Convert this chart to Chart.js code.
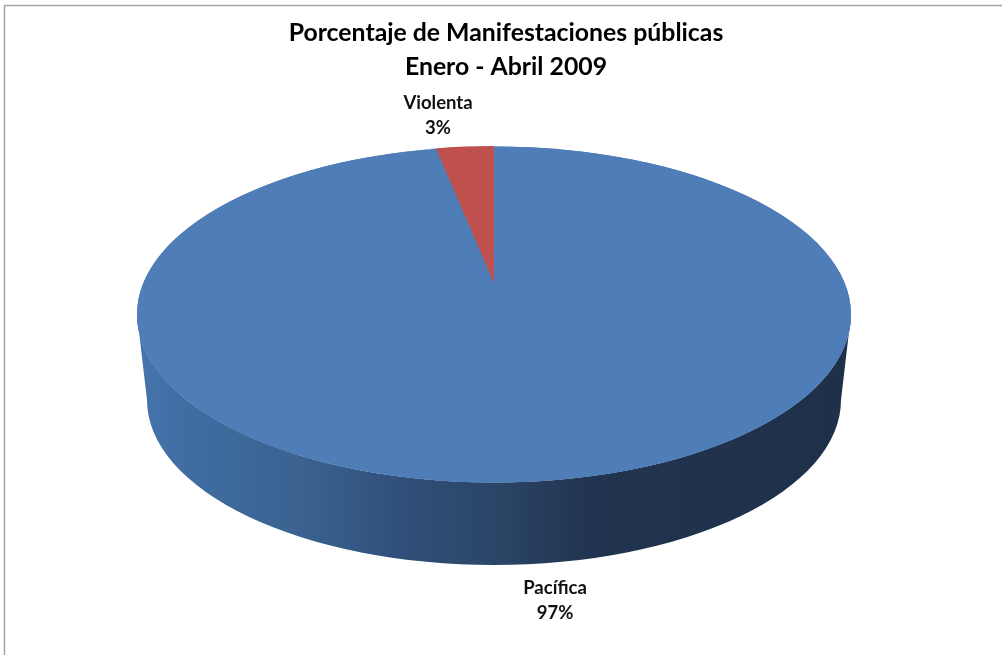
<!DOCTYPE html>
<html>
<head>
<meta charset="utf-8">
<title>Porcentaje de Manifestaciones públicas</title>
<script src="https://cdn.jsdelivr.net/npm/chart.js@4"></script>
<style>
  html, body { margin: 0; background: #fff; }
  canvas { display: block; }
</style>
</head>
<body>
<canvas id="pieChart" width="1002" height="657"></canvas>
<script>
const categories = ['Pacífica', 'Violenta'];
const percentages = [97, 3];
const titleLines = ['Porcentaje de Manifestaciones públicas', 'Enero - Abril 2009'];

const FONT = 'Lato, "Open Sans", sans-serif';

// Top face ellipse of the 3D pie; the red slice has its own apex, as in the reference
const topFaces = [
    { x: 494, y: 314.5, rx: 357, ry: 168 },
    { x: 494, y: 283, rx: 310, ry: 137 }
];
const bottomFace = { x: 494, y: 400, rx: 347, ry: 165 };
const labelPositions = [
    { x: 555, y: 588 },
    { x: 438, y: 103 }
];

// Only the top and left edges of the chart frame are in the picture
const framePlugin = {
    id: 'frame',
    beforeDraw(chart) {
        const ctx = chart.ctx;
        ctx.save();
        ctx.strokeStyle = '#a4a4a4';
        ctx.lineWidth = 1.5;
        ctx.beginPath();
        ctx.moveTo(4.5, 655);
        ctx.lineTo(4.5, 5.5);
        ctx.lineTo(1002, 5.5);
        ctx.stroke();
        ctx.restore();
    }
};

// Side wall first, then the slices squashed into their ellipses
const pie3dPlugin = {
    id: 'pie3d',
    beforeDatasetDraw(chart, args) {
        const ctx = chart.ctx;
        const top = topFaces[0];
        const wall = ctx.createLinearGradient(top.x - top.rx, 0, top.x + top.rx, 0);
        wall.addColorStop(0, '#4674ac');
        wall.addColorStop(0.074, '#3f6da2');
        wall.addColorStop(0.228, '#3b6290');
        wall.addColorStop(0.368, '#30507a');
        wall.addColorStop(0.508, '#2a4566');
        wall.addColorStop(0.634, '#21344f');
        wall.addColorStop(1, '#1f3049');

        ctx.save();
        ctx.fillStyle = wall;
        ctx.beginPath();
        ctx.ellipse(top.x, top.y, top.rx, top.ry, 0, 0, Math.PI);
        ctx.ellipse(bottomFace.x, bottomFace.y, bottomFace.rx, bottomFace.ry, 0, Math.PI, 0, true);
        ctx.closePath();
        ctx.fill();

        ctx.fillStyle = chart.data.datasets[0].backgroundColor[0];
        ctx.beginPath();
        ctx.ellipse(top.x, top.y, top.rx, top.ry, 0, 0, Math.PI * 2);
        ctx.fill();
        ctx.restore();

        const arcs = chart.getDatasetMeta(args.index).data;
        arcs.forEach((arc, i) => {
            const face = topFaces[i];
            ctx.save();
            ctx.translate(face.x, face.y);
            ctx.scale(face.rx / arc.outerRadius, face.ry / arc.outerRadius);
            ctx.translate(-arc.x, -arc.y);
            arc.draw(ctx);
            ctx.restore();
        });
        return false;
    },
    afterDraw(chart) {
        const ctx = chart.ctx;
        ctx.save();
        ctx.fillStyle = '#111';
        ctx.font = '700 18.5px ' + FONT;
        ctx.textAlign = 'center';
        ctx.textBaseline = 'middle';
        categories.forEach((name, i) => {
            const pos = labelPositions[i];
            ctx.fillText(name, pos.x, pos.y);
            ctx.fillText(percentages[i] + '%', pos.x, pos.y + 25);
        });
        ctx.restore();
    }
};

new Chart(document.getElementById('pieChart').getContext('2d'), {
    type: 'pie',
    data: {
        labels: categories,
        datasets: [{
            data: percentages,
            backgroundColor: ['#4f7db8', '#c0504d'],
            borderWidth: 0
        }]
    },
    options: {
        responsive: false,
        animation: false,
        devicePixelRatio: 1,
        rotation: 0,
        layout: { padding: { left: 10 } },
        plugins: {
            legend: { display: false },
            tooltip: { enabled: false },
            title: {
                display: true,
                text: titleLines,
                color: '#000',
                font: { family: FONT, size: 24.8, weight: '700', lineHeight: 1.38 },
                padding: { top: 16, bottom: 10 }
            }
        }
    },
    plugins: [framePlugin, pie3dPlugin]
});
</script>
</body>
</html>
